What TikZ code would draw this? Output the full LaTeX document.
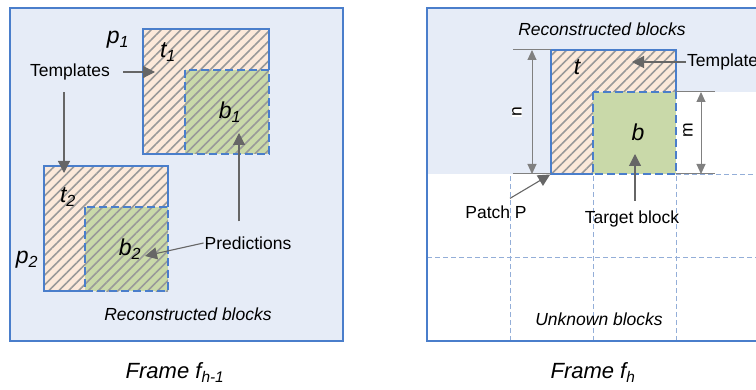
\documentclass[tikz,border=0pt]{standalone}
\usepackage{fontspec}
\setmainfont{Liberation Sans}
\usetikzlibrary{arrows.meta,patterns.meta}
\definecolor{colorBg}{HTML}{E6ECF7}
\definecolor{colorEdge}{HTML}{4A7ECB}
\definecolor{colorT}{HTML}{FCE9DA}
\definecolor{colorB}{HTML}{C9D9A9}
\definecolor{colorGrid}{HTML}{93AED8}
\definecolor{colorArr}{HTML}{666666}
\definecolor{colorDim}{HTML}{808080}

\begin{document}
\begin{tikzpicture}[x=1pt,y=1pt,>={Triangle[length=12pt,width=12pt]},every node/.append style={align=center,inner sep=1pt},frame/.style={draw=colorEdge,line width=1.8pt},blk/.style={draw=colorEdge,line width=1.8pt},tgt/.style={draw=colorEdge,line width=1.8pt,dash pattern=on 8pt off 4pt},hatch/.style={pattern={Lines[angle=45,distance=7pt,line width=1.6pt]},pattern color=gray!80},gridline/.style={draw=colorGrid,line width=0.8pt,dash pattern=on 5pt off 3pt},arr/.style={->,colorArr,line width=1.1pt},dim/.style={<->,>={Triangle[length=10pt,width=9pt]},colorDim,line width=1pt},ext/.style={colorDim,line width=1pt},lbl/.style={font=\fontsize{17.5}{20}\selectfont},ilbl/.style={font=\fontsize{17.5}{20}\selectfont\itshape},sym/.style={font=\fontsize{23}{26}\selectfont\itshape},caption/.style={font=\fontsize{22}{26}\selectfont\itshape}]
    \useasboundingbox (0,0) rectangle (756,389);
    % frame f_{h-1}
    \filldraw[frame,fill=colorBg] (10,48) rectangle (343,381);
    \coordinate (p1sw) at (143,235);
    \coordinate (p1ne) at (269,360);
    \coordinate (b1nw) at (185,319);
    \fill[colorT] (p1sw) rectangle (p1ne);
    \fill[colorB] (b1nw) rectangle (p1ne |- p1sw);
    \fill[hatch] (p1sw) rectangle (p1ne);
    \draw[blk] (b1nw |- p1sw) -- (p1sw) -- (p1sw |- p1ne) -- (p1ne) -- (p1ne |- b1nw);
    \draw[tgt] (b1nw) rectangle (p1ne |- p1sw);
    \coordinate (p2sw) at (44,98);
    \coordinate (p2ne) at (168,223);
    \coordinate (b2nw) at (85,182);
    \fill[colorT] (p2sw) rectangle (p2ne);
    \fill[colorB] (b2nw) rectangle (p2ne |- p2sw);
    \fill[hatch] (p2sw) rectangle (p2ne);
    \draw[blk] (b2nw |- p2sw) -- (p2sw) -- (p2sw |- p2ne) -- (p2ne) -- (p2ne |- b2nw);
    \draw[tgt] (b2nw) rectangle (p2ne |- p2sw);
    \node [sym] (p1) at (118,349) {p\textsubscript{1}};
    \node [sym] (t1) at (168,337) {t\textsubscript{1}};
    \node [sym] (b1) at (230,277) {b\textsubscript{1}};
    \node [sym] (p2) at (27,129) {p\textsubscript{2}};
    \node [sym] (t2) at (68,192) {t\textsubscript{2}};
    \node [sym] (b2) at (130,140) {b\textsubscript{2}};
    \node [lbl] (tmpl) at (70,317) {Templates};
    \node [lbl] (pred) at (248,146) {Predictions};
    \coordinate (t1in) at (155,317);
    \coordinate (t2in) at (64,216);
    \coordinate (b1in) at (239,256);
    \coordinate (b2in) at (145,133);
    \draw[arr,shorten <=12pt] (tmpl.east) -- (t1in);
    \draw[arr,shorten <=11pt] (tmpl.south -| t2in) -- (t2in);
    \draw[arr,shorten <=14pt] (pred.north -| b1in) -- (b1in);
    \draw[arr] (pred.west) -- (b2in);
    \node [ilbl] (recL) at (188,75) {Reconstructed blocks};
    \node [caption] (frL) at (175,16) {Frame f\textsubscript{h-1}};
    % frame f_h
    \fill[colorBg] (427,297) rectangle (762,381);
    \fill[colorBg] (427,215) rectangle (676,297);
    \foreach \x in {510,593,676}
        \draw[gridline] (\x,48) -- (\x,215);
    \draw[gridline] (427,132) -- (762,132);
    \draw[gridline] (676,215) -- (762,215);
    \draw[frame] (427,48) rectangle (762,381);
    \coordinate (tsw) at (551,215);
    \coordinate (tne) at (676,339);
    \coordinate (bnw) at (593,297);
    \fill[colorT] (tsw) rectangle (tne);
    \fill[colorB] (bnw) rectangle (tne |- tsw);
    \fill[hatch] (tsw) -- (tsw |- tne) -- (tne) -- (tne |- bnw) -- (bnw) -- (bnw |- tsw) -- cycle;
    \draw[blk] (bnw |- tsw) -- (tsw) -- (tsw |- tne) -- (tne) -- (tne |- bnw);
    \draw[tgt] (bnw) rectangle (tne |- tsw);
    % dimensions
    \coordinate (nTop) at (532,339);
    \coordinate (nBot) at (532,215);
    \coordinate (mTop) at (701,297);
    \coordinate (mBot) at (701,215);
    \draw[ext] (513,339) -- (tsw |- tne);
    \draw[ext] (513,215) -- (tsw);
    \draw[ext] (tne |- bnw) -- (715,297);
    \draw[ext] (tne |- tsw) -- (715,215);
    \draw[dim] (nTop) -- (nBot);
    \draw[dim] (mTop) -- (mBot);
    \node [lbl, rotate=90, fill=white, inner sep=0.5pt] (nlab) at (517,277) {n};
    \node [lbl, rotate=90] (mlab) at (688,259) {m};
    \node [sym] (t) at (577,322) {t};
    \node [sym] (b) at (638,257) {b};
    \node [lbl, anchor=west] (tmplR) at (686,327) {Templates};
    \node [lbl] (patch) at (496,177) {Patch P};
    \node [lbl] (tb) at (632,170) {Target block};
    \coordinate (tR) at (632,327);
    \coordinate (bin) at (635,235);
    \draw[arr] (tmplR.west) -- (tR);
    \draw[arr,shorten >=1pt] ([xshift=14pt,yshift=6pt]patch.north) -- (tsw);
    \draw[arr,shorten <=9pt] (tb.north -| bin) -- (bin);
    \node [ilbl] (recR) at (602,360) {Reconstructed blocks};
    \node [ilbl] (unk) at (599,70) {Unknown blocks};
    \node [caption] (frR) at (593,16) {Frame f\textsubscript{h}};
\end{tikzpicture}
\end{document}
